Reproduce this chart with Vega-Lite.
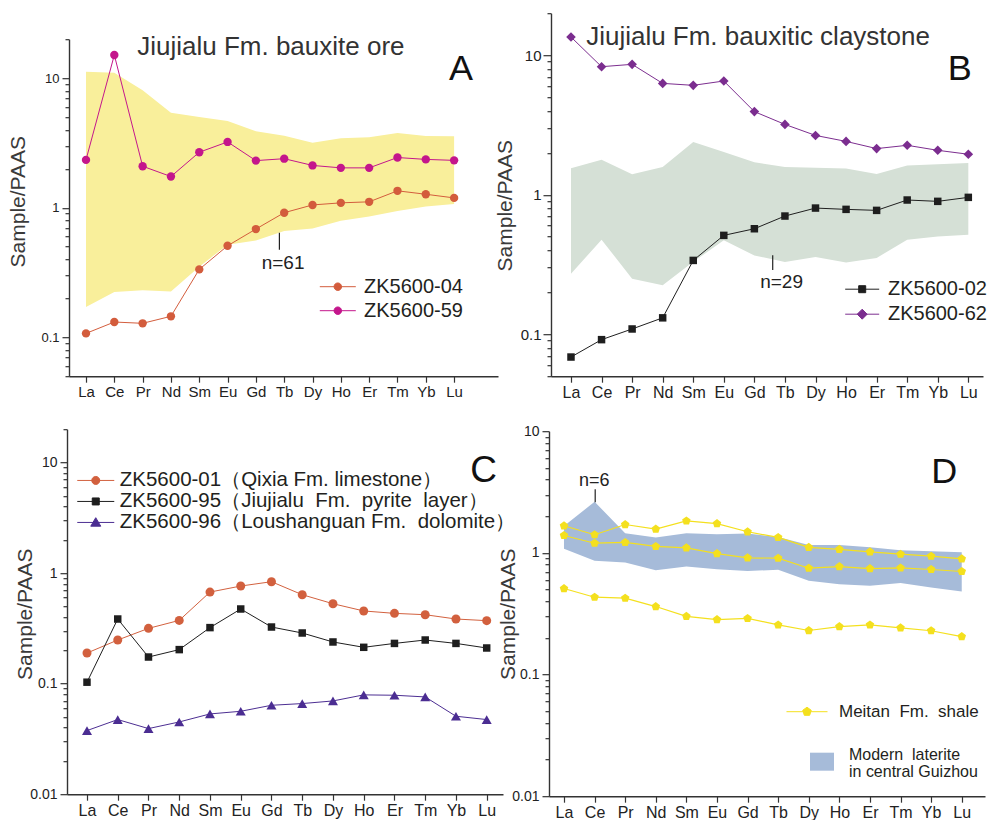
{
"$schema": "https://vega.github.io/schema/vega-lite/v6.json",
"padding": {"left": 7, "top": 6.2, "right": 5, "bottom": 0},
"background": "white",
"config": {
  "font": "Liberation Sans",
  "view": {"stroke": null},
  "axis": {"domainColor": "#333333", "domainWidth": 1.4, "tickColor": "#333333", "tickWidth": 1.2, "labelColor": "#222222", "labelFont": "Liberation Sans", "titleFont": "Liberation Sans", "titleFontWeight": "normal", "titleColor": "#3a3a3a", "grid": false, "labelOverlap": false, "labelFlush": false, "labelBound": false},
  "legend": {"labelFont": "Liberation Sans", "labelColor": "#231F20", "symbolOpacity": 1, "padding": 0, "labelLimit": 0}
},
"datasets": {
  "a_pts": [
    {"el":"La","i":1,"s":"ZK5600-04","v":0.107},{"el":"Ce","i":2,"s":"ZK5600-04","v":0.131},{"el":"Pr","i":3,"s":"ZK5600-04","v":0.128},{"el":"Nd","i":4,"s":"ZK5600-04","v":0.145},{"el":"Sm","i":5,"s":"ZK5600-04","v":0.334},{"el":"Eu","i":6,"s":"ZK5600-04","v":0.508},{"el":"Gd","i":7,"s":"ZK5600-04","v":0.684},{"el":"Tb","i":8,"s":"ZK5600-04","v":0.915},{"el":"Dy","i":9,"s":"ZK5600-04","v":1.05},{"el":"Ho","i":10,"s":"ZK5600-04","v":1.09},{"el":"Er","i":11,"s":"ZK5600-04","v":1.11},{"el":"Tm","i":12,"s":"ZK5600-04","v":1.35},{"el":"Yb","i":13,"s":"ZK5600-04","v":1.27},{"el":"Lu","i":14,"s":"ZK5600-04","v":1.19},
    {"el":"La","i":1,"s":"ZK5600-59","v":2.34},{"el":"Ce","i":2,"s":"ZK5600-59","v":15.1},{"el":"Pr","i":3,"s":"ZK5600-59","v":2.09},{"el":"Nd","i":4,"s":"ZK5600-59","v":1.74},{"el":"Sm","i":5,"s":"ZK5600-59","v":2.68},{"el":"Eu","i":6,"s":"ZK5600-59","v":3.22},{"el":"Gd","i":7,"s":"ZK5600-59","v":2.31},{"el":"Tb","i":8,"s":"ZK5600-59","v":2.39},{"el":"Dy","i":9,"s":"ZK5600-59","v":2.12},{"el":"Ho","i":10,"s":"ZK5600-59","v":2.03},{"el":"Er","i":11,"s":"ZK5600-59","v":2.03},{"el":"Tm","i":12,"s":"ZK5600-59","v":2.44},{"el":"Yb","i":13,"s":"ZK5600-59","v":2.36},{"el":"Lu","i":14,"s":"ZK5600-59","v":2.32}
  ],
  "a_band": [
    {"el":"La","i":1,"lo":0.171,"hi":11.2},{"el":"Ce","i":2,"lo":0.223,"hi":11.0},{"el":"Pr","i":3,"lo":0.23,"hi":8.08},{"el":"Nd","i":4,"lo":0.225,"hi":5.4},{"el":"Sm","i":5,"lo":0.35,"hi":5.02},{"el":"Eu","i":6,"lo":0.518,"hi":4.68},{"el":"Gd","i":7,"lo":0.559,"hi":3.89},{"el":"Tb","i":8,"lo":0.66,"hi":3.6},{"el":"Dy","i":9,"lo":0.692,"hi":3.18},{"el":"Ho","i":10,"lo":0.793,"hi":3.44},{"el":"Er","i":11,"lo":0.857,"hi":3.5},{"el":"Tm","i":12,"lo":0.942,"hi":3.78},{"el":"Yb","i":13,"lo":1.02,"hi":3.58},{"el":"Lu","i":14,"lo":1.07,"hi":3.56}
  ],
  "b_pts": [
    {"el":"La","i":1,"s":"ZK5600-02","v":0.0686},{"el":"Ce","i":2,"s":"ZK5600-02","v":0.0914},{"el":"Pr","i":3,"s":"ZK5600-02","v":0.109},{"el":"Nd","i":4,"s":"ZK5600-02","v":0.131},{"el":"Sm","i":5,"s":"ZK5600-02","v":0.338},{"el":"Eu","i":6,"s":"ZK5600-02","v":0.511},{"el":"Gd","i":7,"s":"ZK5600-02","v":0.57},{"el":"Tb","i":8,"s":"ZK5600-02","v":0.703},{"el":"Dy","i":9,"s":"ZK5600-02","v":0.802},{"el":"Ho","i":10,"s":"ZK5600-02","v":0.785},{"el":"Er","i":11,"s":"ZK5600-02","v":0.772},{"el":"Tm","i":12,"s":"ZK5600-02","v":0.916},{"el":"Yb","i":13,"s":"ZK5600-02","v":0.896},{"el":"Lu","i":14,"s":"ZK5600-02","v":0.957},
    {"el":"La","i":1,"s":"ZK5600-62","v":13.5},{"el":"Ce","i":2,"s":"ZK5600-62","v":8.27},{"el":"Pr","i":3,"s":"ZK5600-62","v":8.6},{"el":"Nd","i":4,"s":"ZK5600-62","v":6.28},{"el":"Sm","i":5,"s":"ZK5600-62","v":6.08},{"el":"Eu","i":6,"s":"ZK5600-62","v":6.53},{"el":"Gd","i":7,"s":"ZK5600-62","v":3.94},{"el":"Tb","i":8,"s":"ZK5600-62","v":3.19},{"el":"Dy","i":9,"s":"ZK5600-62","v":2.66},{"el":"Ho","i":10,"s":"ZK5600-62","v":2.41},{"el":"Er","i":11,"s":"ZK5600-62","v":2.14},{"el":"Tm","i":12,"s":"ZK5600-62","v":2.26},{"el":"Yb","i":13,"s":"ZK5600-62","v":2.08},{"el":"Lu","i":14,"s":"ZK5600-62","v":1.95}
  ],
  "b_band": [
    {"el":"La","i":1,"lo":0.271,"hi":1.55},{"el":"Ce","i":2,"lo":0.476,"hi":1.78},{"el":"Pr","i":3,"lo":0.25,"hi":1.4},{"el":"Nd","i":4,"lo":0.224,"hi":1.58},{"el":"Sm","i":5,"lo":0.33,"hi":2.39},{"el":"Eu","i":6,"lo":0.471,"hi":2.02},{"el":"Gd","i":7,"lo":0.367,"hi":1.71},{"el":"Tb","i":8,"lo":0.329,"hi":1.58},{"el":"Dy","i":9,"lo":0.357,"hi":1.56},{"el":"Ho","i":10,"lo":0.327,"hi":1.54},{"el":"Er","i":11,"lo":0.352,"hi":1.41},{"el":"Tm","i":12,"lo":0.476,"hi":1.62},{"el":"Yb","i":13,"lo":0.502,"hi":1.65},{"el":"Lu","i":14,"lo":0.517,"hi":1.69}
  ],
  "c_pts": [
    {"el":"La","i":1,"s":"ZK5600-01（Qixia Fm. limestone）","v":0.189},{"el":"Ce","i":2,"s":"ZK5600-01（Qixia Fm. limestone）","v":0.248},{"el":"Pr","i":3,"s":"ZK5600-01（Qixia Fm. limestone）","v":0.316},{"el":"Nd","i":4,"s":"ZK5600-01（Qixia Fm. limestone）","v":0.373},{"el":"Sm","i":5,"s":"ZK5600-01（Qixia Fm. limestone）","v":0.673},{"el":"Eu","i":6,"s":"ZK5600-01（Qixia Fm. limestone）","v":0.763},{"el":"Gd","i":7,"s":"ZK5600-01（Qixia Fm. limestone）","v":0.835},{"el":"Tb","i":8,"s":"ZK5600-01（Qixia Fm. limestone）","v":0.637},{"el":"Dy","i":9,"s":"ZK5600-01（Qixia Fm. limestone）","v":0.528},{"el":"Ho","i":10,"s":"ZK5600-01（Qixia Fm. limestone）","v":0.454},{"el":"Er","i":11,"s":"ZK5600-01（Qixia Fm. limestone）","v":0.432},{"el":"Tm","i":12,"s":"ZK5600-01（Qixia Fm. limestone）","v":0.42},{"el":"Yb","i":13,"s":"ZK5600-01（Qixia Fm. limestone）","v":0.384},{"el":"Lu","i":14,"s":"ZK5600-01（Qixia Fm. limestone）","v":0.371},
    {"el":"La","i":1,"s":"ZK5600-95（Jiujialu\u00a0 Fm.\u00a0 pyrite\u00a0 layer）","v":0.103},{"el":"Ce","i":2,"s":"ZK5600-95（Jiujialu\u00a0 Fm.\u00a0 pyrite\u00a0 layer）","v":0.384},{"el":"Pr","i":3,"s":"ZK5600-95（Jiujialu\u00a0 Fm.\u00a0 pyrite\u00a0 layer）","v":0.174},{"el":"Nd","i":4,"s":"ZK5600-95（Jiujialu\u00a0 Fm.\u00a0 pyrite\u00a0 layer）","v":0.203},{"el":"Sm","i":5,"s":"ZK5600-95（Jiujialu\u00a0 Fm.\u00a0 pyrite\u00a0 layer）","v":0.321},{"el":"Eu","i":6,"s":"ZK5600-95（Jiujialu\u00a0 Fm.\u00a0 pyrite\u00a0 layer）","v":0.473},{"el":"Gd","i":7,"s":"ZK5600-95（Jiujialu\u00a0 Fm.\u00a0 pyrite\u00a0 layer）","v":0.325},{"el":"Tb","i":8,"s":"ZK5600-95（Jiujialu\u00a0 Fm.\u00a0 pyrite\u00a0 layer）","v":0.287},{"el":"Dy","i":9,"s":"ZK5600-95（Jiujialu\u00a0 Fm.\u00a0 pyrite\u00a0 layer）","v":0.238},{"el":"Ho","i":10,"s":"ZK5600-95（Jiujialu\u00a0 Fm.\u00a0 pyrite\u00a0 layer）","v":0.213},{"el":"Er","i":11,"s":"ZK5600-95（Jiujialu\u00a0 Fm.\u00a0 pyrite\u00a0 layer）","v":0.231},{"el":"Tm","i":12,"s":"ZK5600-95（Jiujialu\u00a0 Fm.\u00a0 pyrite\u00a0 layer）","v":0.248},{"el":"Yb","i":13,"s":"ZK5600-95（Jiujialu\u00a0 Fm.\u00a0 pyrite\u00a0 layer）","v":0.231},{"el":"Lu","i":14,"s":"ZK5600-95（Jiujialu\u00a0 Fm.\u00a0 pyrite\u00a0 layer）","v":0.21},
    {"el":"La","i":1,"s":"ZK5600-96（Loushanguan Fm.\u00a0 dolomite）","v":0.0376},{"el":"Ce","i":2,"s":"ZK5600-96（Loushanguan Fm.\u00a0 dolomite）","v":0.0473},{"el":"Pr","i":3,"s":"ZK5600-96（Loushanguan Fm.\u00a0 dolomite）","v":0.0392},{"el":"Nd","i":4,"s":"ZK5600-96（Loushanguan Fm.\u00a0 dolomite）","v":0.045},{"el":"Sm","i":5,"s":"ZK5600-96（Loushanguan Fm.\u00a0 dolomite）","v":0.0532},{"el":"Eu","i":6,"s":"ZK5600-96（Loushanguan Fm.\u00a0 dolomite）","v":0.0562},{"el":"Gd","i":7,"s":"ZK5600-96（Loushanguan Fm.\u00a0 dolomite）","v":0.0637},{"el":"Tb","i":8,"s":"ZK5600-96（Loushanguan Fm.\u00a0 dolomite）","v":0.066},{"el":"Dy","i":9,"s":"ZK5600-96（Loushanguan Fm.\u00a0 dolomite）","v":0.0697},{"el":"Ho","i":10,"s":"ZK5600-96（Loushanguan Fm.\u00a0 dolomite）","v":0.0791},{"el":"Er","i":11,"s":"ZK5600-96（Loushanguan Fm.\u00a0 dolomite）","v":0.0785},{"el":"Tm","i":12,"s":"ZK5600-96（Loushanguan Fm.\u00a0 dolomite）","v":0.0758},{"el":"Yb","i":13,"s":"ZK5600-96（Loushanguan Fm.\u00a0 dolomite）","v":0.0507},{"el":"Lu","i":14,"s":"ZK5600-96（Loushanguan Fm.\u00a0 dolomite）","v":0.0473}
  ],
  "d_pts": [
    {"el":"La","i":1,"s":"S1","g":"Meitan Fm. shale","v":1.67},{"el":"Ce","i":2,"s":"S1","g":"Meitan Fm. shale","v":1.41},{"el":"Pr","i":3,"s":"S1","g":"Meitan Fm. shale","v":1.71},{"el":"Nd","i":4,"s":"S1","g":"Meitan Fm. shale","v":1.57},{"el":"Sm","i":5,"s":"S1","g":"Meitan Fm. shale","v":1.83},{"el":"Eu","i":6,"s":"S1","g":"Meitan Fm. shale","v":1.74},{"el":"Gd","i":7,"s":"S1","g":"Meitan Fm. shale","v":1.49},{"el":"Tb","i":8,"s":"S1","g":"Meitan Fm. shale","v":1.34},{"el":"Dy","i":9,"s":"S1","g":"Meitan Fm. shale","v":1.11},{"el":"Ho","i":10,"s":"S1","g":"Meitan Fm. shale","v":1.07},{"el":"Er","i":11,"s":"S1","g":"Meitan Fm. shale","v":1.02},{"el":"Tm","i":12,"s":"S1","g":"Meitan Fm. shale","v":0.975},{"el":"Yb","i":13,"s":"S1","g":"Meitan Fm. shale","v":0.939},{"el":"Lu","i":14,"s":"S1","g":"Meitan Fm. shale","v":0.893},
    {"el":"La","i":1,"s":"S2","g":"Meitan Fm. shale","v":1.39},{"el":"Ce","i":2,"s":"S2","g":"Meitan Fm. shale","v":1.2},{"el":"Pr","i":3,"s":"S2","g":"Meitan Fm. shale","v":1.22},{"el":"Nd","i":4,"s":"S2","g":"Meitan Fm. shale","v":1.13},{"el":"Sm","i":5,"s":"S2","g":"Meitan Fm. shale","v":1.1},{"el":"Eu","i":6,"s":"S2","g":"Meitan Fm. shale","v":0.987},{"el":"Gd","i":7,"s":"S2","g":"Meitan Fm. shale","v":0.91},{"el":"Tb","i":8,"s":"S2","g":"Meitan Fm. shale","v":0.904},{"el":"Dy","i":9,"s":"S2","g":"Meitan Fm. shale","v":0.748},{"el":"Ho","i":10,"s":"S2","g":"Meitan Fm. shale","v":0.772},{"el":"Er","i":11,"s":"S2","g":"Meitan Fm. shale","v":0.743},{"el":"Tm","i":12,"s":"S2","g":"Meitan Fm. shale","v":0.753},{"el":"Yb","i":13,"s":"S2","g":"Meitan Fm. shale","v":0.73},{"el":"Lu","i":14,"s":"S2","g":"Meitan Fm. shale","v":0.703},
    {"el":"La","i":1,"s":"S3","g":"Meitan Fm. shale","v":0.509},{"el":"Ce","i":2,"s":"S3","g":"Meitan Fm. shale","v":0.432},{"el":"Pr","i":3,"s":"S3","g":"Meitan Fm. shale","v":0.424},{"el":"Nd","i":4,"s":"S3","g":"Meitan Fm. shale","v":0.362},{"el":"Sm","i":5,"s":"S3","g":"Meitan Fm. shale","v":0.301},{"el":"Eu","i":6,"s":"S3","g":"Meitan Fm. shale","v":0.283},{"el":"Gd","i":7,"s":"S3","g":"Meitan Fm. shale","v":0.289},{"el":"Tb","i":8,"s":"S3","g":"Meitan Fm. shale","v":0.256},{"el":"Dy","i":9,"s":"S3","g":"Meitan Fm. shale","v":0.23},{"el":"Ho","i":10,"s":"S3","g":"Meitan Fm. shale","v":0.248},{"el":"Er","i":11,"s":"S3","g":"Meitan Fm. shale","v":0.256},{"el":"Tm","i":12,"s":"S3","g":"Meitan Fm. shale","v":0.242},{"el":"Yb","i":13,"s":"S3","g":"Meitan Fm. shale","v":0.229},{"el":"Lu","i":14,"s":"S3","g":"Meitan Fm. shale","v":0.205}
  ],
  "d_band": [
    {"el":"La","i":1,"lab":"Modern laterite in central Guizhou","lo":1.08,"hi":1.66},{"el":"Ce","i":2,"lab":"Modern laterite in central Guizhou","lo":0.86,"hi":2.63},{"el":"Pr","i":3,"lab":"Modern laterite in central Guizhou","lo":0.833,"hi":1.45},{"el":"Nd","i":4,"lab":"Modern laterite in central Guizhou","lo":0.721,"hi":1.34},{"el":"Sm","i":5,"lab":"Modern laterite in central Guizhou","lo":0.772,"hi":1.45},{"el":"Eu","i":6,"lab":"Modern laterite in central Guizhou","lo":0.734,"hi":1.42},{"el":"Gd","i":7,"lab":"Modern laterite in central Guizhou","lo":0.711,"hi":1.44},{"el":"Tb","i":8,"lab":"Modern laterite in central Guizhou","lo":0.725,"hi":1.35},{"el":"Dy","i":9,"lab":"Modern laterite in central Guizhou","lo":0.589,"hi":1.16},{"el":"Ho","i":10,"lab":"Modern laterite in central Guizhou","lo":0.553,"hi":1.16},{"el":"Er","i":11,"lab":"Modern laterite in central Guizhou","lo":0.536,"hi":1.11},{"el":"Tm","i":12,"lab":"Modern laterite in central Guizhou","lo":0.564,"hi":1.05},{"el":"Yb","i":13,"lab":"Modern laterite in central Guizhou","lo":0.519,"hi":1.03},{"el":"Lu","i":14,"lab":"Modern laterite in central Guizhou","lo":0.481,"hi":1.01}
  ]
},
"columns": 2,
"spacing": {"row": 53, "column": 46},
"bounds": "flush",
"resolve": {"scale": {"color": "independent", "shape": "independent", "fill": "independent", "size": "independent"}},
"concat": [
{
  "width": 431, "height": 363,
  "layer": [
    {"data": {"name": "a_band"}, "mark": {"type": "area", "color": "#F9EF9B", "opacity": 1},
     "encoding": {
       "x": {"field": "i", "type": "quantitative", "scale": {"domain": [0.4, 15.55], "range": [2, 431], "nice": false, "zero": false},
             "axis": {"values": [1,2,3,4,5,6,7,8,9,10,11,12,13,14], "tickCount": 30, "labelExpr": "['La','Ce','Pr','Nd','Sm','Eu','Gd','Tb','Dy','Ho','Er','Tm','Yb','Lu'][datum.value-1]", "title": null, "tickSize": 6, "labelPadding": 2, "labelFontSize": 15, "labelOverlap": false}},
       "y": {"field": "lo", "type": "quantitative", "scale": {"type": "log", "domain": [0.05, 20], "range": [363, 26], "nice": false},
             "axis": {"values": [0.05,0.06,0.07,0.08,0.09,0.1,0.2,0.3,0.4,0.5,0.6,0.7,0.8,0.9,1,2,3,4,5,6,7,8,9,10,20], "tickCount": 60,
                      "labelExpr": "datum.value == 0.1 ? '0.1' : datum.value == 1 ? '1' : datum.value == 10 ? '10' : ''",
                      "tickSize": {"condition": {"test": "datum.value == 0.1 || datum.value == 1 || datum.value == 10", "value": 7}, "value": 4},
                      "labelPadding": 3, "labelFontSize": 13, "offset": -2, "labelOverlap": false,
                      "title": "Sample/PAAS", "titleFontSize": 21, "titleX": -50.5, "titleY": 188, "titleBaseline": "middle"}},
       "y2": {"field": "hi"}
     }},
    {"data": {"name": "a_pts"},
     "encoding": {
       "x": {"field": "i", "type": "quantitative"},
       "y": {"field": "v", "type": "quantitative", "scale": {"type": "log"}},
       "color": {"field": "s", "type": "nominal", "scale": {"domain": ["ZK5600-04", "ZK5600-59"], "range": ["#D35C3C", "#C4168C"]},
                 "legend": {"orient": "none", "legendX": 260.8, "legendY": 263.5, "title": null,
                            "symbolType": "M-3.6,0H3.6M0.75,0A0.75,0.75,0,1,1,-0.75,0A0.75,0.75,0,1,1,0.75,0Z",
                            "symbolSize": 100, "symbolStrokeWidth": 1, "labelFontSize": 20, "labelOffset": 16.2, "rowPadding": 4,
                            "encode": {"symbols": {"update": {"fill": {"signal": "datum.value == 'ZK5600-04' ? '#D35C3C' : '#C4168C'"}, "stroke": {"signal": "datum.value == 'ZK5600-04' ? '#DE7F62' : '#C4168C'"}, "opacity": {"value": 1}}}}}}
     },
     "layer": [
       {"mark": {"type": "line", "strokeWidth": 1}},
       {"mark": {"type": "point", "filled": true, "opacity": 1, "size": 70, "shape": "circle", "strokeWidth": 0}}
     ]},
    {"data": {"values": [{"t": "Jiujialu Fm. bauxite ore"}]}, "mark": {"type": "text", "fontSize": 26, "color": "#333333", "align": "center", "baseline": "alphabetic"},
     "encoding": {"text": {"field": "t"}, "x": {"datum": 7.53}, "y": {"datum": 15.2, "scale": {"type": "log"}}}},
    {"data": {"values": [{"t": "A"}]}, "mark": {"type": "text", "fontSize": 36, "color": "#111111", "align": "center", "baseline": "alphabetic"},
     "encoding": {"text": {"field": "t"}, "x": {"datum": 14.24}, "y": {"datum": 9.6, "scale": {"type": "log"}}}},
    {"data": {"values": [{"t": "n=61"}]}, "mark": {"type": "text", "fontSize": 19, "color": "#222222", "align": "center", "baseline": "middle"},
     "encoding": {"text": {"field": "t"}, "x": {"datum": 7.96}, "y": {"datum": 0.376, "scale": {"type": "log"}}}},
    {"data": {"values": [{"t": "n=61"}]}, "mark": {"type": "rule", "color": "#222222", "strokeWidth": 1.2},
     "encoding": {"x": {"datum": 7.83}, "y": {"datum": 0.641, "scale": {"type": "log"}}, "y2": {"datum": 0.473}}}
  ]
},
{
  "width": 434, "height": 363,
  "layer": [
    {"data": {"name": "b_band"}, "mark": {"type": "area", "color": "#D5E0D6", "opacity": 1},
     "encoding": {
       "x": {"field": "i", "type": "quantitative", "scale": {"domain": [0.346, 14.48], "range": [2, 434], "nice": false, "zero": false},
             "axis": {"values": [1,2,3,4,5,6,7,8,9,10,11,12,13,14], "tickCount": 30, "labelExpr": "['La','Ce','Pr','Nd','Sm','Eu','Gd','Tb','Dy','Ho','Er','Tm','Yb','Lu'][datum.value-1]", "title": null, "tickSize": 6, "labelPadding": 2, "labelFontSize": 16, "labelOverlap": false}},
       "y": {"field": "lo", "type": "quantitative", "scale": {"type": "log", "domain": [0.05, 20], "nice": false},
             "axis": {"values": [0.05,0.06,0.07,0.08,0.09,0.1,0.2,0.3,0.4,0.5,0.6,0.7,0.8,0.9,1,2,3,4,5,6,7,8,9,10,20], "tickCount": 60,
                      "labelExpr": "datum.value == 0.1 ? '0.1' : datum.value == 1 ? '1' : datum.value == 10 ? '10' : ''",
                      "tickSize": {"condition": {"test": "datum.value == 0.1 || datum.value == 1 || datum.value == 10", "value": 8}, "value": 4},
                      "labelPadding": 2, "labelFontSize": 15, "offset": -2, "labelOverlap": false,
                      "title": "Sample/PAAS", "titleFontSize": 21, "titleX": -45, "titleY": 192, "titleBaseline": "middle"}},
       "y2": {"field": "hi"}
     }},
    {"data": {"name": "b_pts"},
     "encoding": {
       "x": {"field": "i", "type": "quantitative"},
       "y": {"field": "v", "type": "quantitative", "scale": {"type": "log"}},
       "color": {"field": "s", "type": "nominal", "scale": {"domain": ["ZK5600-02", "ZK5600-62"], "range": ["#1E1E1E", "#7B2D8F"]}}
     },
     "layer": [
       {"mark": {"type": "line", "strokeWidth": 1}},
       {"transform": [{"filter": "datum.s == 'ZK5600-02'"}], "mark": {"type": "point", "filled": true, "opacity": 1, "strokeWidth": 0, "shape": "square", "size": 56}},
       {"transform": [{"filter": "datum.s == 'ZK5600-62'"}], "mark": {"type": "point", "filled": true, "opacity": 1, "strokeWidth": 0, "shape": "diamond", "size": 92}},
       {"transform": [{"filter": "false"}], "mark": {"type": "point", "filled": true, "opacity": 1, "size": 100, "strokeWidth": 1},
        "encoding": {
          "color": {"field": "s", "type": "nominal", "scale": {"domain": ["ZK5600-02", "ZK5600-62"], "range": ["#1E1E1E", "#7B2D8F"]},
                    "legend": {"orient": "none", "legendX": 303.2, "legendY": 266, "title": null, "symbolSize": 100, "symbolStrokeWidth": 1, "labelFontSize": 20, "labelOffset": 15.8, "rowPadding": 5,
                               "encode": {"symbols": {"update": {"stroke": {"signal": "datum.value == 'ZK5600-02' ? '#1E1E1E' : '#8A4A9E'"}, "fill": {"signal": "datum.value == 'ZK5600-02' ? '#1E1E1E' : '#7B2D8F'"}, "size": {"value": 100}, "opacity": {"value": 1}}}}}},
          "shape": {"field": "s", "type": "nominal", "scale": {"domain": ["ZK5600-02", "ZK5600-62"], "range": ["M-3.4,0H3.4M-0.7,-0.7H0.7V0.7H-0.7Z", "M-3.4,0H3.4M0,-1L1,0L0,1L-1,0Z"]},
                    "legend": {"orient": "none", "legendX": 303.2, "legendY": 266, "title": null, "symbolSize": 100, "symbolStrokeWidth": 1, "labelFontSize": 20, "labelOffset": 15.8, "rowPadding": 5}}
        }}
     ]},
    {"data": {"values": [{"t": "Jiujialu Fm. bauxitic claystone"}]}, "mark": {"type": "text", "fontSize": 26, "color": "#333333", "align": "center", "baseline": "alphabetic"},
     "encoding": {"text": {"field": "t"}, "x": {"datum": 7.12}, "y": {"datum": 11.9, "scale": {"type": "log"}}}},
    {"data": {"values": [{"t": "B"}]}, "mark": {"type": "text", "fontSize": 36, "color": "#111111", "align": "center", "baseline": "alphabetic"},
     "encoding": {"text": {"field": "t"}, "x": {"datum": 13.72}, "y": {"datum": 6.62, "scale": {"type": "log"}}}},
    {"data": {"values": [{"t": "n=29"}]}, "mark": {"type": "text", "fontSize": 19, "color": "#222222", "align": "center", "baseline": "middle"},
     "encoding": {"text": {"field": "t"}, "x": {"datum": 7.89}, "y": {"datum": 0.236, "scale": {"type": "log"}}}},
    {"data": {"values": [{"t": "n=29"}]}, "mark": {"type": "rule", "color": "#222222", "strokeWidth": 1.2},
     "encoding": {"x": {"datum": 7.6}, "y": {"datum": 0.368, "scale": {"type": "log"}}, "y2": {"datum": 0.288}}}
  ]
},
{
  "width": 436, "height": 365,
  "layer": [
    {"data": {"name": "c_pts"},
     "encoding": {
       "x": {"field": "i", "type": "quantitative", "scale": {"domain": [0.35, 14.53], "nice": false, "zero": false},
             "axis": {"values": [1,2,3,4,5,6,7,8,9,10,11,12,13,14], "tickCount": 30, "labelExpr": "['La','Ce','Pr','Nd','Sm','Eu','Gd','Tb','Dy','Ho','Er','Tm','Yb','Lu'][datum.value-1]", "title": null, "tickSize": 6, "labelPadding": 2, "labelFontSize": 16, "labelOverlap": false}},
       "y": {"field": "v", "type": "quantitative", "scale": {"type": "log", "domain": [0.01, 20], "nice": false},
             "axis": {"values": [0.01,0.02,0.03,0.04,0.05,0.06,0.07,0.08,0.09,0.1,0.2,0.3,0.4,0.5,0.6,0.7,0.8,0.9,1,2,3,4,5,6,7,8,9,10,20], "tickCount": 60,
                      "labelExpr": "datum.value == 0.01 ? '0.01' : datum.value == 0.1 ? '0.1' : datum.value == 1 ? '1' : datum.value == 10 ? '10' : ''",
                      "tickSize": {"condition": {"test": "datum.value == 0.01 || datum.value == 0.1 || datum.value == 1 || datum.value == 10", "value": 7}, "value": 4},
                      "labelPadding": 3, "labelFontSize": 14, "labelOverlap": false,
                      "title": "Sample/PAAS", "titleFontSize": 21, "titleX": -41.8, "titleY": 184.5, "titleBaseline": "middle"}},
       "color": {"field": "s", "type": "nominal", "scale": {"domain": ["ZK5600-01（Qixia Fm. limestone）", "ZK5600-95（Jiujialu\u00a0 Fm.\u00a0 pyrite\u00a0 layer）", "ZK5600-96（Loushanguan Fm.\u00a0 dolomite）"], "range": ["#D2603E", "#1E1E1E", "#4B2D92"]}}
     },
     "layer": [
       {"mark": {"type": "line", "strokeWidth": 1}},
       {"transform": [{"filter": "indexof(datum.s, 'ZK5600-01') >= 0"}], "mark": {"type": "point", "filled": true, "opacity": 1, "strokeWidth": 0, "shape": "circle", "size": 81}},
       {"transform": [{"filter": "indexof(datum.s, 'ZK5600-95') >= 0"}], "mark": {"type": "point", "filled": true, "opacity": 1, "strokeWidth": 0, "shape": "square", "size": 56}},
       {"transform": [{"filter": "indexof(datum.s, 'ZK5600-96') >= 0"}], "mark": {"type": "point", "filled": true, "opacity": 1, "strokeWidth": 0, "shape": "triangle-up", "size": 100}},
       {"transform": [{"filter": "false"}], "mark": {"type": "point", "filled": true, "opacity": 1, "size": 100, "strokeWidth": 1},
        "encoding": {
          "color": {"field": "s", "type": "nominal", "scale": {"domain": ["ZK5600-01（Qixia Fm. limestone）", "ZK5600-95（Jiujialu\u00a0 Fm.\u00a0 pyrite\u00a0 layer）", "ZK5600-96（Loushanguan Fm.\u00a0 dolomite）"], "range": ["#D2603E", "#1E1E1E", "#4B2D92"]},
                    "legend": {"orient": "none", "legendX": 18.5, "legendY": 41, "title": null, "symbolSize": 100, "symbolStrokeWidth": 1, "labelFontSize": 20.5, "labelOffset": 13.8, "rowPadding": -0.2,
                               "encode": {"symbols": {"update": {
                                 "fill": {"signal": "indexof(datum.value, 'ZK5600-01') >= 0 ? '#D2603E' : indexof(datum.value, 'ZK5600-95') >= 0 ? '#1E1E1E' : '#4B2D92'"},
                                 "stroke": {"signal": "indexof(datum.value, 'ZK5600-01') >= 0 ? '#E08A6E' : indexof(datum.value, 'ZK5600-95') >= 0 ? '#1E1E1E' : '#8A7BC4'"},
                                 "size": {"value": 100},
                                 "opacity": {"value": 1}}}}}},
          "shape": {"field": "s", "type": "nominal", "scale": {"domain": ["ZK5600-01（Qixia Fm. limestone）", "ZK5600-95（Jiujialu\u00a0 Fm.\u00a0 pyrite\u00a0 layer）", "ZK5600-96（Loushanguan Fm.\u00a0 dolomite）"], "range": ["M-3.7,0H3.7M0.8,0A0.8,0.8,0,1,1,-0.8,0A0.8,0.8,0,1,1,0.8,0Z", "M-3.7,0H3.7M-0.7,-0.7H0.7V0.7H-0.7Z", "M-3.7,0H3.7M0,-0.95L1,0.75L-1,0.75Z"]},
                    "legend": {"orient": "none", "legendX": 18.5, "legendY": 41, "title": null, "symbolSize": 100, "symbolStrokeWidth": 1, "labelFontSize": 20.5, "labelOffset": 13.8, "rowPadding": -0.2}}
        }}
     ]},
    {"data": {"values": [{"t": "C"}]}, "mark": {"type": "text", "fontSize": 37, "color": "#111111", "align": "center", "baseline": "alphabetic"},
     "encoding": {"text": {"field": "t"}, "x": {"datum": 13.9}, "y": {"datum": 6.6, "scale": {"type": "log"}}}}
  ]
},
{
  "width": 436, "height": 367,
  "layer": [
    {"data": {"name": "d_band"}, "mark": {"type": "area", "opacity": 1},
     "encoding": {
       "x": {"field": "i", "type": "quantitative", "scale": {"domain": [0.51, 14.76], "nice": false, "zero": false},
             "axis": {"values": [1,2,3,4,5,6,7,8,9,10,11,12,13,14], "tickCount": 30, "labelExpr": "['La','Ce','Pr','Nd','Sm','Eu','Gd','Tb','Dy','Ho','Er','Tm','Yb','Lu'][datum.value-1]", "title": null, "tickSize": 6, "labelPadding": 2, "labelFontSize": 16, "labelOverlap": false}},
       "y": {"field": "lo", "type": "quantitative", "scale": {"type": "log", "domain": [0.01, 10], "range": [367, 2], "nice": false},
             "axis": {"values": [0.01,0.02,0.03,0.04,0.05,0.06,0.07,0.08,0.09,0.1,0.2,0.3,0.4,0.5,0.6,0.7,0.8,0.9,1,2,3,4,5,6,7,8,9,10], "tickCount": 60,
                      "labelExpr": "datum.value == 0.01 ? '0.01' : datum.value == 0.1 ? '0.1' : datum.value == 1 ? '1' : datum.value == 10 ? '10' : ''",
                      "tickSize": {"condition": {"test": "datum.value == 0.01 || datum.value == 0.1 || datum.value == 1 || datum.value == 10", "value": 7}, "value": 4},
                      "labelPadding": 3, "labelFontSize": 14, "labelOverlap": false,
                      "title": "Sample/PAAS", "titleFontSize": 21, "titleX": -40.5, "titleY": 184.5, "titleBaseline": "middle"}},
       "y2": {"field": "hi"},
       "fill": {"field": "lab", "type": "nominal", "scale": {"range": ["#A6BBD9"]},
                "legend": {"orient": "none", "legendX": 263, "legendY": 322.5, "title": null,
                           "symbolType": "M-1.2,-0.9H1.2V0.9H-1.2Z", "symbolSize": 400, "symbolStrokeWidth": 0,
                           "labelFontSize": 16, "labelOffset": 17, "labelExpr": "['Modern\u00a0 laterite', 'in central Guizhou']",
                           "encode": {"symbols": {"update": {"fill": {"value": "#8AABC3"}, "opacity": {"value": 1}}}, "labels": {"update": {"dy": {"value": -7}, "lineHeight": {"value": 17.5}}}}}}
     }},
    {"data": {"name": "d_pts"},
     "encoding": {
       "x": {"field": "i", "type": "quantitative"},
       "y": {"field": "v", "type": "quantitative", "scale": {"type": "log"}},
       "detail": {"field": "s"},
       "color": {"field": "g", "type": "nominal", "scale": {"range": ["#F4E01E"]},
                 "legend": {"orient": "none", "legendX": 249.5, "legendY": 274, "title": null,
                            "symbolType": "M-4.1,0H4.1M0,-0.9L0.856,-0.278L0.529,0.728L-0.529,0.728L-0.856,-0.278Z",
                            "symbolSize": 100, "symbolStrokeWidth": 1, "labelFontSize": 17, "labelOffset": 23.5, "labelExpr": "'Meitan\u00a0 Fm.\u00a0 shale'",
                            "encode": {"symbols": {"update": {"fill": {"value": "#F4E01E"}, "stroke": {"value": "#F2E44A"}, "opacity": {"value": 1}}}}}}
     },
     "layer": [
       {"mark": {"type": "line", "strokeWidth": 1.2}},
       {"mark": {"type": "point", "filled": true, "opacity": 1, "size": 80, "strokeWidth": 0, "shape": "M0,-1L0.951,-0.309L0.588,0.809L-0.588,0.809L-0.951,-0.309Z"}}
     ]},
    {"data": {"values": [{"t": "D"}]}, "mark": {"type": "text", "fontSize": 36, "color": "#111111", "align": "center", "baseline": "alphabetic"},
     "encoding": {"text": {"field": "t"}, "x": {"datum": 13.43}, "y": {"datum": 3.72, "scale": {"type": "log"}}}},
    {"data": {"values": [{"t": "n=6"}]}, "mark": {"type": "text", "fontSize": 18, "color": "#222222", "align": "center", "baseline": "middle"},
     "encoding": {"text": {"field": "t"}, "x": {"datum": 1.99}, "y": {"datum": 3.9, "scale": {"type": "log"}}}},
    {"data": {"values": [{"t": "n=6"}]}, "mark": {"type": "rule", "color": "#222222", "strokeWidth": 1.2},
     "encoding": {"x": {"datum": 2.02}, "y": {"datum": 3.34, "scale": {"type": "log"}}, "y2": {"datum": 2.6}}}
  ]
}
]
}
